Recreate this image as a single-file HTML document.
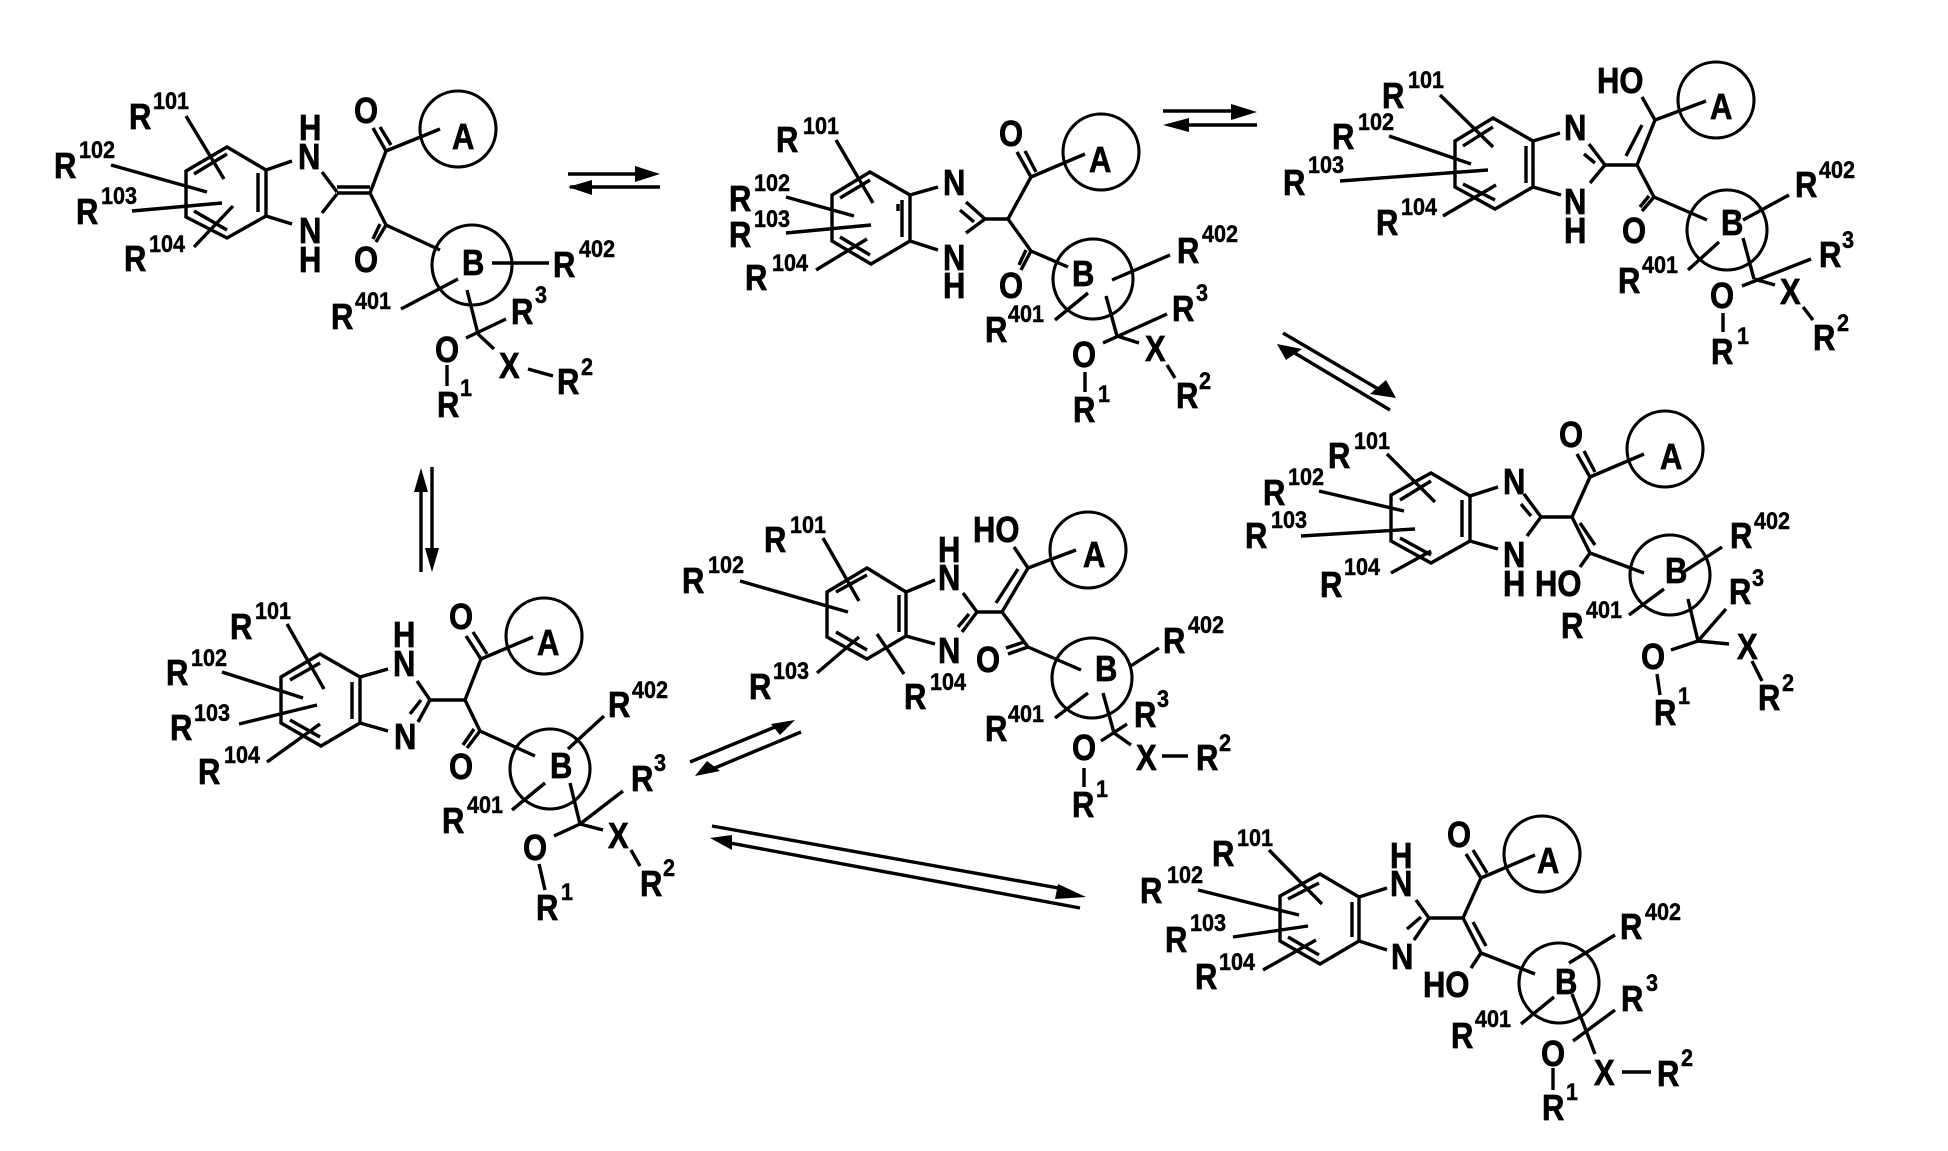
<!DOCTYPE html>
<html><head><meta charset="utf-8"><style>
html,body{margin:0;padding:0;background:#fff}
svg{display:block}
path{fill:none;stroke:#000;stroke-width:3.4;stroke-linecap:butt;stroke-linejoin:miter}
circle{fill:none;stroke:#000;stroke-width:3.1}
path.h{fill:#000;stroke:none}
text{font:bold 36px "Liberation Sans",sans-serif;fill:#000;stroke:#000;stroke-width:.7;transform-box:fill-box;transform-origin:0 100%;transform:scaleX(.86)}
text.s{font-size:24px;stroke-width:.45;transform:scaleX(.9)}
</style></head><body>
<svg xmlns="http://www.w3.org/2000/svg" width="1948" height="1151" viewBox="0 0 1948 1151">
<!-- Molecule 1 -->
<path d="M227 147L266 170L266 216L227 238L186 217L186 171ZM258 173L258 212M194 174L227 154M194 211L227 230M266 170L292 161M266 216L292 224M322 172L337 192M322 213L337 194M337 187L370 187M337 193L370 193M370 193L386 151M370 193L386 225M386 151L373 128M391 145L380 127M386 151L440 129M386 225L376 242M380 224L373 239M386 225L440 250M492 263L549 263M458 279L401 309M467 290L478 334M506 319L466 338M478 334L494 349M447 365L447 386M528 369L553 376M186 116L224 179M111 165L207 192M132 211L222 203M194 247L233 206"/>
<circle cx="458" cy="129" r="38"/><circle cx="472" cy="265" r="40"/>
<text x="129" y="129">R</text><text class="s" x="153" y="109">101</text>
<text x="54" y="178">R</text><text class="s" x="79" y="158">102</text>
<text x="76" y="224">R</text><text class="s" x="101" y="204">103</text>
<text x="124" y="271">R</text><text class="s" x="149" y="252">104</text>
<text x="299" y="140">H</text><text x="298" y="169">N</text><text x="299" y="243">N</text><text x="299" y="272">H</text>
<text x="354" y="123">O</text><text x="354" y="272">O</text><text x="452" y="149">A</text><text x="462" y="275">B</text>
<text x="553" y="277">R</text><text class="s" x="579" y="257">402</text>
<text x="331" y="329">R</text><text class="s" x="355" y="309">401</text>
<text x="511" y="324">R</text><text class="s" x="535" y="303">3</text>
<text x="435" y="362">O</text><text x="499" y="378">X</text>
<text x="557" y="394">R</text><text class="s" x="581" y="375">2</text>
<text x="437" y="417">R</text><text class="s" x="460" y="396">1</text>
<!-- Molecule 2 -->
<path d="M870 172L910 195L910 241L871 264L832 241L832 195ZM902 200L902 237M840 198L870 180M840 237L870 255M898 204L898 211M910 195L938 187M910 241L938 250M966 202L985 219M960 210L974 222M966 233L985 219M985 219L1008 219M1008 219L1031 177M1031 177L1017 152M1036 172L1025 151M1031 177L1085 154M1008 219L1031 251M1031 251L1021 270M1026 250L1019 265M1031 251L1068 267M1112 280L1170 255M1088 293L1055 320M1106 296L1117 336M1167 314L1103 343M1117 336L1139 343M1085 372L1085 392M1167 365L1175 378M836 140L873 203M786 197L854 216M786 233L871 225M816 270L867 239"/>
<circle cx="1101" cy="152" r="38"/><circle cx="1093" cy="279" r="40"/>
<text x="776" y="152">R</text><text class="s" x="803" y="134">101</text>
<text x="729" y="211">R</text><text class="s" x="754" y="191">102</text>
<text x="729" y="247">R</text><text class="s" x="754" y="227">103</text>
<text x="745" y="290">R</text><text class="s" x="772" y="271">104</text>
<text x="943" y="195">N</text><text x="943" y="270">N</text><text x="943" y="298">H</text>
<text x="999" y="146">O</text><text x="999" y="298">O</text><text x="1089" y="172">A</text><text x="1072" y="286">B</text>
<text x="1177" y="263">R</text><text class="s" x="1202" y="242">402</text>
<text x="985" y="342">R</text><text class="s" x="1008" y="322">401</text>
<text x="1172" y="321">R</text><text class="s" x="1196" y="301">3</text>
<text x="1072" y="367">O</text><text x="1145" y="361">X</text>
<text x="1176" y="408">R</text><text class="s" x="1199" y="389">2</text>
<text x="1073" y="422">R</text><text class="s" x="1098" y="402">1</text>
<!-- Molecule 3 -->
<path d="M1493 118L1533 141L1533 187L1495 209L1455 187L1455 141ZM1526 146L1526 183M1463 146L1493 127M1463 184L1495 200M1533 141L1560 133M1533 187L1561 195M1589 144L1605 165M1584 154L1595 163M1590 183L1605 165M1605 165L1637 165M1637 165L1655 120M1626 156L1642 125M1655 120L1642 97M1655 120L1706 101M1637 165L1654 197M1654 197L1642 211M1649 196L1640 207M1654 197L1707 220M1743 220L1789 195M1719 242L1688 270M1743 238L1754 279M1811 259L1742 286M1754 279L1775 285M1723 313L1723 332M1803 307L1813 320M1440 95L1493 147M1389 136L1471 164M1340 181L1488 170M1443 216L1496 185"/>
<circle cx="1716" cy="100" r="38"/><circle cx="1727" cy="230" r="40"/>
<text x="1382" y="108">R</text><text class="s" x="1408" y="88">101</text>
<text x="1332" y="149">R</text><text class="s" x="1358" y="130">102</text>
<text x="1283" y="195">R</text><text class="s" x="1308" y="173">103</text>
<text x="1376" y="235">R</text><text class="s" x="1401" y="215">104</text>
<text x="1564" y="140">N</text><text x="1564" y="214">N</text><text x="1564" y="243">H</text>
<text x="1597" y="93">HO</text><text x="1622" y="243">O</text><text x="1710" y="119">A</text><text x="1721" y="235">B</text>
<text x="1795" y="197">R</text><text class="s" x="1819" y="178">402</text>
<text x="1618" y="293">R</text><text class="s" x="1642" y="273">401</text>
<text x="1819" y="267">R</text><text class="s" x="1842" y="248">3</text>
<text x="1710" y="308">O</text><text x="1780" y="304">X</text>
<text x="1813" y="350">R</text><text class="s" x="1837" y="331">2</text>
<text x="1711" y="364">R</text><text class="s" x="1737" y="344">1</text>
<!-- Molecule 4 -->
<path d="M1431 473L1470 496L1470 541L1431 563L1391 541L1391 495ZM1462 500L1462 537M1400 500L1431 481M1400 538L1431 555M1470 496L1498 487M1470 541L1498 549M1524 494L1541 517M1521 504L1531 516M1527 536L1541 517M1541 517L1572 517M1572 517L1590 477M1590 477L1577 454M1595 472L1584 451M1590 477L1644 454M1572 517L1590 553M1580 523L1595 545M1590 553L1580 567M1590 553L1644 573M1682 573L1722 547M1664 589L1629 615M1688 599L1698 641M1726 609L1698 641M1698 641L1729 644M1698 641L1671 650M1657 674L1660 695M1752 661L1762 681M1387 454L1435 502M1319 491L1404 511M1301 536L1415 529M1391 573L1431 551"/>
<circle cx="1665" cy="449" r="38"/><circle cx="1670" cy="575" r="40"/>
<text x="1328" y="468">R</text><text class="s" x="1354" y="449">101</text>
<text x="1263" y="505">R</text><text class="s" x="1288" y="485">102</text>
<text x="1245" y="548">R</text><text class="s" x="1271" y="528">103</text>
<text x="1320" y="597">R</text><text class="s" x="1344" y="575">104</text>
<text x="1503" y="494">N</text><text x="1503" y="567">N</text><text x="1503" y="596">H</text>
<text x="1559" y="447">O</text><text x="1535" y="596">HO</text><text x="1660" y="469">A</text><text x="1665" y="583">B</text>
<text x="1730" y="548">R</text><text class="s" x="1754" y="529">402</text>
<text x="1561" y="638">R</text><text class="s" x="1586" y="618">401</text>
<text x="1729" y="604">R</text><text class="s" x="1752" y="586">3</text>
<text x="1641" y="669">O</text><text x="1737" y="659">X</text>
<text x="1758" y="710">R</text><text class="s" x="1782" y="691">2</text>
<text x="1654" y="725">R</text><text class="s" x="1678" y="704">1</text>
<!-- Molecule 5 -->
<path d="M320 654L360 677L360 723L321 746L281 723L281 677ZM352 682L352 719M290 680L320 663M290 720L320 737M360 677L388 669M360 723L388 731M417 681L430 700M430 700L418 722M421 700L410 714M430 700L465 700M465 700L481 659M481 659L466 636M487 654L473 632M481 659L533 637M465 700L480 731M480 731L467 748M474 729L463 745M480 731L535 756M604 716L568 749M545 783L512 810M570 783L580 824M623 791L580 824M580 824L603 830M580 824L554 836M539 864L545 890M631 850L640 866M287 624L324 689M222 672L303 698M239 724L317 705M267 762L320 724"/>
<circle cx="544" cy="636" r="38"/><circle cx="550" cy="769" r="40"/>
<text x="230" y="639">R</text><text class="s" x="255" y="619">101</text>
<text x="166" y="685">R</text><text class="s" x="191" y="666">102</text>
<text x="170" y="740">R</text><text class="s" x="194" y="721">103</text>
<text x="198" y="784">R</text><text class="s" x="224" y="763">104</text>
<text x="393" y="647">H</text><text x="393" y="676">N</text><text x="394" y="749">N</text>
<text x="449" y="629">O</text><text x="449" y="779">O</text><text x="537" y="655">A</text><text x="550" y="778">B</text>
<text x="608" y="717">R</text><text class="s" x="632" y="698">402</text>
<text x="442" y="833">R</text><text class="s" x="467" y="813">401</text>
<text x="631" y="791">R</text><text class="s" x="654" y="771">3</text>
<text x="523" y="860">O</text><text x="608" y="848">X</text>
<text x="640" y="896">R</text><text class="s" x="663" y="876">2</text>
<text x="536" y="920">R</text><text class="s" x="561" y="900">1</text>
<!-- Molecule 6 -->
<path d="M867 568L906 592L906 636L867 659L827 637L827 592ZM899 595L899 632M836 592L867 575M836 632L867 650M906 592L935 580M906 636L935 644M963 593L977 612M977 612L962 632M969 614L958 627M977 612L1002 612M1002 612L1028 568M996 603L1018 569M1028 568L1014 547M1028 568L1076 550M1002 612L1028 647M1028 647L1008 654M1024 642L1006 648M1028 647L1081 670M1159 648L1129 667M1088 693L1055 718M1103 693L1114 733M1127 724L1101 741M1114 733L1131 745M1084 768L1084 787M1162 756L1188 756M823 538L859 601M740 581L848 612M817 673L859 637M877 634L904 674"/>
<circle cx="1088" cy="550" r="38"/><circle cx="1092" cy="678" r="40"/>
<text x="764" y="552">R</text><text class="s" x="790" y="533">101</text>
<text x="682" y="593">R</text><text class="s" x="708" y="573">102</text>
<text x="749" y="699">R</text><text class="s" x="773" y="679">103</text>
<text x="904" y="709">R</text><text class="s" x="930" y="690">104</text>
<text x="938" y="562">H</text><text x="938" y="590">N</text><text x="938" y="663">N</text>
<text x="973" y="542">HO</text><text x="976" y="672">O</text><text x="1083" y="567">A</text><text x="1095" y="681">B</text>
<text x="1163" y="653">R</text><text class="s" x="1188" y="633">402</text>
<text x="985" y="741">R</text><text class="s" x="1008" y="722">401</text>
<text x="1134" y="727">R</text><text class="s" x="1157" y="707">3</text>
<text x="1072" y="760">O</text><text x="1136" y="770">X</text>
<text x="1196" y="770">R</text><text class="s" x="1219" y="751">2</text>
<text x="1072" y="817">R</text><text class="s" x="1096" y="797">1</text>
<!-- Molecule 7 -->
<path d="M1320 874L1359 897L1359 941L1320 964L1280 941L1280 896ZM1352 902L1352 937M1288 899L1319 883M1288 937L1319 955M1359 897L1387 888M1359 941L1387 950M1416 900L1429 918M1429 918L1414 940M1421 917L1407 929M1429 918L1463 918M1463 918L1481 878M1481 878L1466 854M1487 873L1473 850M1481 878L1535 855M1463 918L1481 953M1473 922L1486 946M1481 953L1471 968M1481 953L1535 974M1615 935L1569 963M1554 997L1521 1024M1572 994L1595 1054M1615 1010L1573 1041M1622 1072L1651 1072M1553 1068L1553 1090M1269 850L1322 904M1198 890L1299 915M1233 937L1308 926M1263 970L1316 940"/>
<circle cx="1542" cy="854" r="38"/><circle cx="1559" cy="983" r="40"/>
<text x="1212" y="866">R</text><text class="s" x="1237" y="846">101</text>
<text x="1140" y="903">R</text><text class="s" x="1167" y="883">102</text>
<text x="1165" y="952">R</text><text class="s" x="1190" y="931">103</text>
<text x="1195" y="989">R</text><text class="s" x="1219" y="970">104</text>
<text x="1390" y="868">H</text><text x="1390" y="896">N</text><text x="1391" y="969">N</text>
<text x="1447" y="847">O</text><text x="1423" y="997">HO</text><text x="1537" y="873">A</text><text x="1555" y="994">B</text>
<text x="1620" y="939">R</text><text class="s" x="1645" y="920">402</text>
<text x="1451" y="1048">R</text><text class="s" x="1475" y="1027">401</text>
<text x="1621" y="1011">R</text><text class="s" x="1646" y="991">3</text>
<text x="1541" y="1066">O</text><text x="1594" y="1085">X</text>
<text x="1657" y="1086">R</text><text class="s" x="1681" y="1066">2</text>
<text x="1542" y="1120">R</text><text class="s" x="1566" y="1100">1</text>
<!-- Equilibrium arrows -->
<path d="M568 174L640 174M570 187L660 187M421 485L421 572M432 467L432 555M1163 111L1236 111M1185 125L1257 125M1283 333L1380 390M1390 410L1293 352M690 762L780 725M801 732L710 770M712 826L1064 889M1080 908L730 843"/>
<path class="h" d="M660 174L635 166L635 182ZM568 187L592 180L592 195ZM421 468L414 492L428 492ZM432 572L425 548L439 548ZM1257 112L1231 104L1231 120ZM1163 125L1189 118L1189 132ZM1396 398L1370 394L1386 380ZM1277 344L1302 349L1286 360ZM795 720L771 724L780 735ZM695 776L707 761L720 771ZM1086 897L1058 884L1055 899ZM710 838L732 835L732 850Z"/>
</svg>
</body></html>
